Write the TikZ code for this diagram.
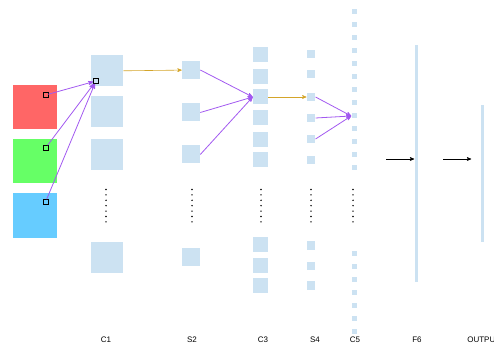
\documentclass[tikz,border=0pt]{standalone}
\usepackage{fontspec}
\setmainfont{Liberation Sans}
\usepackage{xcolor}
\usetikzlibrary{arrows,positioning}

\definecolor{mapblue}{HTML}{CCE2F2}
\definecolor{inred}{HTML}{FF6666}
\definecolor{ingreen}{HTML}{66FF66}
\definecolor{inblue}{HTML}{66CCFF}
\definecolor{convpurple}{HTML}{A259F0}
\definecolor{poolgold}{HTML}{D4A52A}

\begin{document}
\begin{tikzpicture}[x=1pt, y=-1pt, >=stealth', line width=0.6pt]
\tikzstyle{fmap}=[fill=mapblue, draw=none, inner sep=0pt]
\tikzstyle{chan}=[draw=none, inner sep=0pt, minimum size=44pt]
\tikzstyle{patch}=[draw=black, fill=none, inner sep=0pt, minimum size=5pt]
\tikzstyle{conv}=[->, draw=convpurple, line width=0.8pt]
\tikzstyle{pool}=[->, draw=poolgold]
\tikzstyle{layer}=[font=\fontsize{8}{9}\selectfont, inner sep=0pt]

\useasboundingbox (0,0) rectangle (494,344);

% input image, three channels
\node[chan, fill=inred] (red) at (34.5,107) {};
\node[chan, fill=ingreen] (green) at (34.5,161) {};
\node[chan, fill=inblue] (blue) at (34.5,215.5) {};
\node[patch] (pr) at (45.5,95) {};
\node[patch] (pg) at (45.5,148) {};
\node[patch] (pb) at (45.5,202) {};

% C1
\foreach \n/\y in {1/71, 2/111.5, 3/154.5, 4/257.5}
  \node[fmap, minimum width=32pt, minimum height=31pt] (c1-\n) at (107,\y) {};
\node[patch] (pc1) at (96,81) {};

% S2
\foreach \n/\y in {1/70, 2/112.5, 3/154.5, 4/256.5}
  \node[fmap, minimum size=18pt] (s2-\n) at (191,\y) {};

% C3
\foreach \n/\y in {1/55, 2/76.5, 3/97, 4/118, 5/140, 6/160, 7/244.5, 8/265, 9/285}
  \node[fmap, minimum size=15pt] (c3-\n) at (260.5,\y) {};

% S4
\foreach \n/\y in {1/54, 2/74, 3/97, 4/118, 5/139, 6/160, 7/245.5, 8/266, 9/285.5}
  \node[fmap, minimum size=8.5pt] (s4-\n) at (311,\y) {};

% C5
\foreach \n in {1,...,13}
  \node[fmap, minimum size=5pt] (c5-\n) at (354,-1+13*\n) {};
\foreach \n in {1,...,7}
  \node[fmap, minimum size=5pt] (c5b-\n) at (354,240+13*\n) {};

% F6 and output
\node[fmap, minimum width=3pt, minimum height=237pt] (f6) at (416,163.5) {};
\node[fmap, minimum width=3pt, minimum height=137pt] (out) at (482,173.5) {};

% skipped maps
\foreach \x in {106,192,261,311,353}
  \foreach \k in {0,...,6}
    \fill (\x,189.5+\k*5.4) circle (0.8pt);

% connections
\draw[conv] (pr) -- (pc1);
\draw[conv] (pg) -- (pc1);
\draw[conv] (pb) -- (pc1);
\draw[pool] (c1-1) -- (s2-1);
\draw[conv] (s2-1.east) -- (c3-3.west);
\draw[conv] (s2-2.east) -- (c3-3.west);
\draw[conv] (s2-3.east) -- (c3-3.west);
\draw[pool] (c3-3) -- (s4-3);
\draw[conv] (s4-3.east) -- (c5-9.west);
\draw[conv] (s4-4.east) -- (c5-9.west);
\draw[conv] (s4-5.east) -- (c5-9.west);

\coordinate (f6in) at (386,159);
\coordinate (outin) at (443,159);
\draw[->] (f6in) -- (f6in -| f6.west);
\draw[->, shorten >=9pt] (outin) -- (outin -| out.west);

% layer names
\node[layer] (lc1) at (106,339.5) {C1};
\node[layer] (ls2) at (192,339.5) {S2};
\node[layer] (lc3) at (263,339.5) {C3};
\node[layer] (ls4) at (315,339.5) {S4};
\node[layer] (lc5) at (355,339.5) {C5};
\node[layer] (lf6) at (417,339.5) {F6};
\node[layer, anchor=west] (lout) at (467,339.5) {OUTPUT};
\end{tikzpicture}
\end{document}
